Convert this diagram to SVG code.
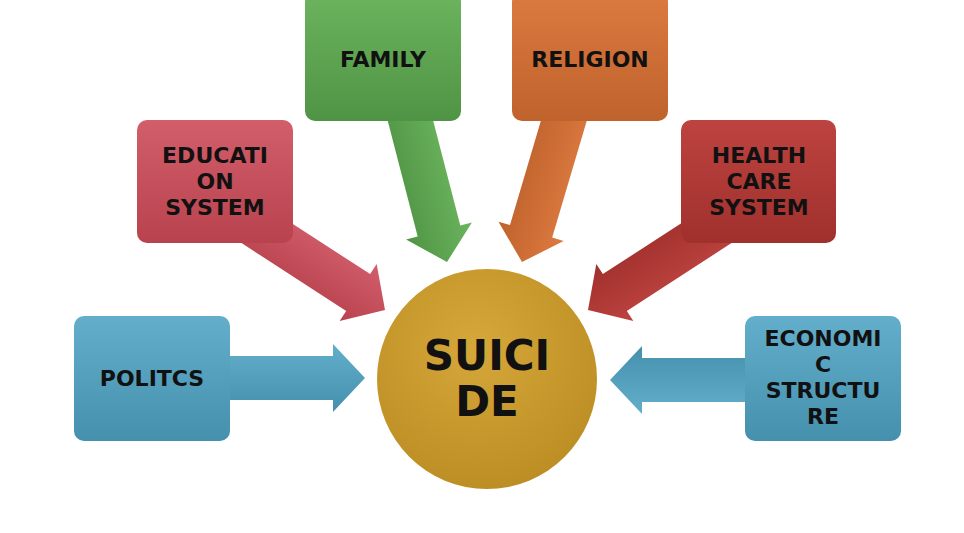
<svg xmlns="http://www.w3.org/2000/svg" width="964" height="533" viewBox="0 0 964 533">
<defs>
<linearGradient id="gb" x1="0" y1="0" x2="0" y2="1"><stop offset="0" stop-color="#63aecb"/><stop offset="1" stop-color="#4590ad"/></linearGradient>
<linearGradient id="gr" x1="0" y1="0" x2="0" y2="1"><stop offset="0" stop-color="#d35e6b"/><stop offset="1" stop-color="#b8434f"/></linearGradient>
<linearGradient id="gg" x1="0" y1="0" x2="0" y2="1"><stop offset="0" stop-color="#6cb45e"/><stop offset="1" stop-color="#4f9444"/></linearGradient>
<linearGradient id="go" x1="0" y1="0" x2="0" y2="1"><stop offset="0" stop-color="#dc7a40"/><stop offset="1" stop-color="#bf622c"/></linearGradient>
<linearGradient id="gd" x1="0" y1="0" x2="0" y2="1"><stop offset="0" stop-color="#bd4340"/><stop offset="1" stop-color="#a0302c"/></linearGradient>
<radialGradient id="gc" cx="0.45" cy="0.35" r="0.7"><stop offset="0" stop-color="#d6a83a"/><stop offset="1" stop-color="#bb8c22"/></radialGradient>
</defs>
<style>
text{font-family:"DejaVu Sans",sans-serif;font-weight:bold;fill:#111;text-anchor:middle}
.t{font-size:22px}
rect{rx:10;ry:10}
</style>
<rect width="964" height="533" fill="#fff"/>
<g id="connectors">
<polygon transform="translate(365,378)" points="-140,-22 -32,-22 -32,-34 0,0 -32,34 -32,22 -140,22" fill="url(#gb)"/>
<polygon transform="translate(385,310) rotate(33)" points="-160,-22 -32,-22 -32,-34 0,0 -32,34 -32,22 -160,22" fill="url(#gr)"/>
<polygon transform="translate(447,262) rotate(75.5)" points="-170,-22 -32,-22 -32,-34 0,0 -32,34 -32,22 -170,22" fill="url(#gg)"/>
<polygon transform="translate(522,262) rotate(106.5)" points="-170,-22 -32,-22 -32,-34 0,0 -32,34 -32,22 -170,22" fill="url(#go)"/>
<polygon transform="translate(588,310) rotate(147)" points="-160,-22 -32,-22 -32,-34 0,0 -32,34 -32,22 -160,22" fill="url(#gd)"/>
<polygon transform="translate(610,380) rotate(180)" points="-150,-22 -32,-22 -32,-34 0,0 -32,34 -32,22 -150,22" fill="url(#gb)"/>
</g>
<g id="politcs"><rect x="74" y="316" width="156" height="125" fill="url(#gb)"/><text class="t" x="152" y="386">POLITCS</text></g>
<g id="education"><rect x="137" y="120" width="156" height="123" fill="url(#gr)"/><text class="t" x="215" y="163">EDUCATI</text><text class="t" x="215" y="189">ON</text><text class="t" x="215" y="215">SYSTEM</text></g>
<g id="family"><rect x="305" y="-8" width="156" height="129" fill="url(#gg)"/><text class="t" x="383" y="67">FAMILY</text></g>
<g id="religion"><rect x="512" y="-8" width="156" height="129" fill="url(#go)"/><text class="t" x="590" y="67">RELIGION</text></g>
<g id="health"><rect x="681" y="120" width="155" height="123" fill="url(#gd)"/><text class="t" x="759" y="163">HEALTH</text><text class="t" x="759" y="189">CARE</text><text class="t" x="759" y="215">SYSTEM</text></g>
<g id="economic"><rect x="745" y="316" width="156" height="125" fill="url(#gb)"/><text class="t" x="823" y="346">ECONOMI</text><text class="t" x="823" y="372">C</text><text class="t" x="823" y="398">STRUCTU</text><text class="t" x="823" y="424">RE</text></g>
<g id="suicide"><circle cx="487" cy="379" r="110" fill="url(#gc)"/><text x="487" y="370" font-size="42">SUICI</text><text x="487" y="416" font-size="42">DE</text></g>
</svg>
